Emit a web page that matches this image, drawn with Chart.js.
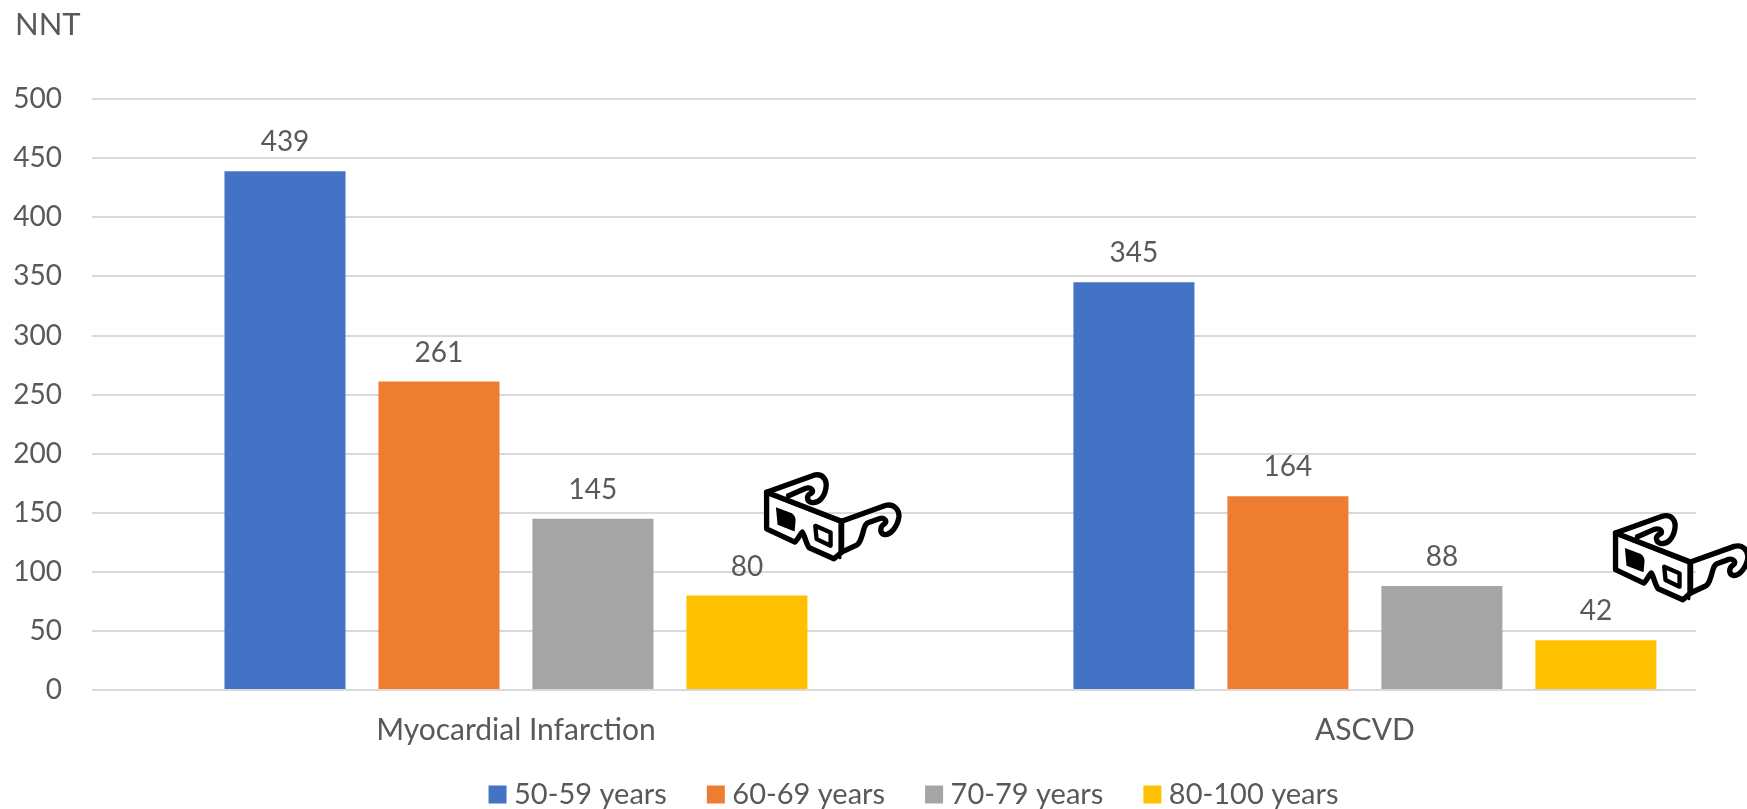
<!DOCTYPE html>
<html>
<head>
<meta charset="utf-8">
<title>NNT by age group</title>
<script src="https://cdn.jsdelivr.net/npm/chart.js@4"></script>
<style>
    html, body { margin: 0; padding: 0; background: #fff; overflow: hidden; }
    canvas { display: block; }
</style>
</head>
<body>
<canvas id="nntChart" width="1747" height="809"></canvas>
<script>
const categories = ['Myocardial Infarction', 'ASCVD'];
const ageGroups = ['50-59 years', '60-69 years', '70-79 years', '80-100 years'];
const age50to59 = [439, 345];
const age60to69 = [261, 164];
const age70to79 = [145, 88];
const age80to100 = [80, 42];
const seriesValues = [age50to59, age60to69, age70to79, age80to100];
const seriesColors = ['#4472C4', '#ED7D31', '#A5A5A5', '#FFC000'];
const glassesLift = [145, 149]; // px above the top of the yellow bars

const textColor = '#595959';
const fontFamily = 'Lato, "Open Sans", sans-serif';

// 3D glasses icon, path units are a third of a pixel
const glassesBody = new Path2D('M80 125 L80 235 L165 275 C178 262 180 250 187 245 C195 255 198 280 208 292 L282 325 L305 305 L305 212 Z');
const glassesFront = new Path2D('M85 130 L300 215 L300 322');
const glassesBackArm = new Path2D('M80 125 L222 74 C250 68 262 90 258 112 C254 140 236 160 214 156 C200 152 198 134 214 128 C224 122 214 108 196 114 L146 136');
const glassesSideArm = new Path2D('M305 212 L436 165 C462 158 478 178 477 198 C474 226 452 256 432 252 C418 246 420 228 434 220 C442 212 434 200 420 204 L384 217 C372 222 372 240 366 256 C362 270 358 280 350 284 L305 305');
const glassesLeftLens = new Path2D('M108 170 L150 186 C162 190 167 200 167 210 L164 243 L113 223 Z');
const glassesRightLens = new Path2D('M226 226 L272 246 L272 286 L230 266 Z');

const glassesPlugin = {
    id: 'glasses',
    afterDatasetsDraw(chart) {
        const ctx = chart.ctx;
        const bars = chart.getDatasetMeta(3).data;
        bars.forEach(function(bar, i) {
            ctx.save();
            ctx.translate(bar.x - 7, bar.y - glassesLift[i]);
            ctx.scale(1 / 3, 1 / 3);
            ctx.lineJoin = 'round';
            ctx.lineCap = 'round';
            ctx.lineWidth = 16;
            ctx.strokeStyle = '#000';
            ctx.fillStyle = '#fff';
            ctx.fill(glassesBody);
            ctx.stroke(glassesBackArm);
            ctx.stroke(glassesSideArm);
            ctx.stroke(glassesBody);
            ctx.lineWidth = 9;
            ctx.stroke(glassesFront);
            ctx.fillStyle = '#000';
            ctx.fill(glassesLeftLens);
            ctx.lineWidth = 13;
            ctx.stroke(glassesRightLens);
            ctx.restore();
        });
    }
};

// Value above each bar
const barValuesPlugin = {
    id: 'barValues',
    afterDatasetsDraw(chart) {
        const ctx = chart.ctx;
        ctx.save();
        ctx.font = '28px ' + fontFamily;
        ctx.fillStyle = textColor;
        ctx.textAlign = 'center';
        ctx.textBaseline = 'middle';
        chart.data.datasets.forEach(function(dataset, d) {
            chart.getDatasetMeta(d).data.forEach(function(bar, i) {
                ctx.fillText(seriesValues[d][i], bar.x, bar.y - 29);
            });
        });
        ctx.restore();
    }
};

// The legend sits right of the canvas centre, the title slightly inset
const layoutShiftPlugin = {
    id: 'layoutShift',
    afterLayout(chart) {
        chart.legend.left += 63;
        chart.legend.right += 63;
        chart.legend.top -= 17;
        chart.legend.bottom -= 17;
        chart.titleBlock.left += 3;
        chart.titleBlock.right += 3;
    }
};

const ctx = document.getElementById('nntChart').getContext('2d');
const nntChart = new Chart(ctx, {
    type: 'bar',
    data: {
        datasets: ageGroups.map(function(group, d) {
            return {
                label: group,
                data: categories.map(function(name, i) {
                    return { x: i, y: seriesValues[d][i] };
                }),
                backgroundColor: seriesColors[d],
                pointStyle: 'rect',
                categoryPercentage: 0.7255,
                barPercentage: 0.786
            };
        })
    },
    options: {
        responsive: false,
        animation: false,
        layout: { padding: { left: 12, right: 51, bottom: -27 } },
        plugins: {
            title: {
                display: true,
                text: 'NNT',
                align: 'start',
                color: textColor,
                font: { family: fontFamily, size: 31, weight: 'normal' },
                padding: { top: 6, bottom: 56 }
            },
            legend: {
                position: 'bottom',
                labels: {
                    color: textColor,
                    font: { family: fontFamily, size: 29 },
                    usePointStyle: true,
                    boxWidth: 4, // narrow slot so the swatch sits close to its text
                    boxHeight: 18,
                    padding: 47
                }
            },
            tooltip: { enabled: false }
        },
        scales: {
            x: {
                type: 'linear',
                offset: false,
                min: -0.4994,
                max: 1.39,
                afterBuildTicks: function(scale) {
                    scale.ticks = categories.map(function(name, i) {
                        return { value: i };
                    });
                },
                afterFit: function(scale) {
                    scale.height = 60;
                },
                grid: { display: false, offset: false },
                border: { display: false },
                ticks: {
                    color: textColor,
                    font: { family: fontFamily, size: 30 },
                    padding: 14,
                    maxRotation: 0,
                    callback: function(value) {
                        return categories[value];
                    }
                }
            },
            y: {
                min: 0,
                max: 500,
                afterFit: function(scale) {
                    scale.width = 80;
                },
                grid: { color: '#D9D9D9', lineWidth: 2, drawTicks: false },
                border: { display: false },
                ticks: {
                    stepSize: 50,
                    color: textColor,
                    font: { family: fontFamily, size: 28 },
                    padding: 30
                }
            }
        }
    },
    plugins: [barValuesPlugin, glassesPlugin, layoutShiftPlugin]
});
</script>
</body>
</html>
